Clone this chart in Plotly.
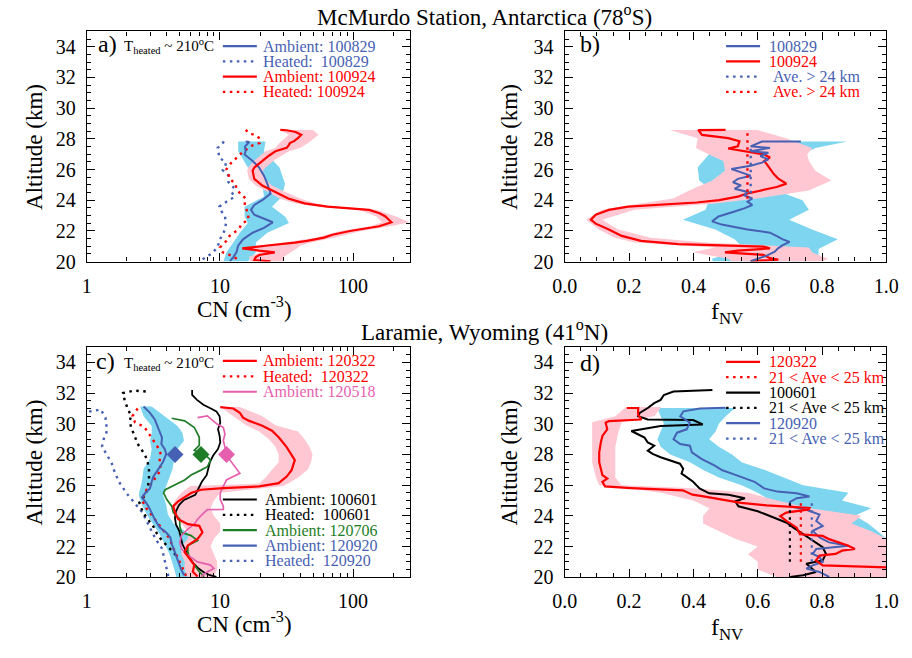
import plotly.graph_objects as go

W, H = 912, 658
SERIF = "Liberation Serif, Times New Roman, serif"

RED = "#ff0000"
PINK_FILL = "#ffc7d2"
BLUE = "#4661b3"
CYAN_FILL = "#7dd5f0"
GREEN = "#1e7d26"
MAGENTA = "#e65fae"
BLACK = "#000000"
DOT = "2.5px,4.5px"

# ---------------- a) McMurdo: CN profiles ----------------
a_amb0829_alt = [27.83, 27.79, 27.5, 27.19, 26.98, 26.56, 26.13, 25.6, 25.07, 24.43, 24.0, 23.69,
                 23.37, 23.05, 22.56, 22.2, 21.88, 21.45, 21.03, 20.6, 20.29, 20.02]
a_amb0829_cn = [15.6, 16.6, 15.4, 15.6, 15.3, 17.6, 19.7, 21.4, 22.7, 24.0, 20.8, 18.1,
                17.1, 18.1, 24.9, 21.4, 17.6, 14.9, 13.7, 13.3, 12.6, 11.9]
a_band0829_alt = [27.83, 27.19, 26.13, 25.07, 24.22, 23.58, 22.94, 22.52, 21.88, 21.24, 20.6, 20.0]
a_band0829_lo = [13.7, 13.7, 16.2, 20.8, 21.4, 15.3, 15.3, 16.2, 14.1, 12.6, 11.2, 10.6]
a_band0829_hi = [22.0, 21.4, 28.0, 30.8, 29.2, 24.6, 30.8, 33.0, 22.7, 18.6, 18.6, 16.2]

a_amb0924_alt = [28.58, 28.56, 28.45, 28.26, 28.05, 27.85, 27.73, 27.6, 27.41, 27.3, 27.19, 26.9,
                 26.66, 26.4, 26.13, 25.92, 25.6, 25.39, 24.96, 24.54, 24.11, 23.79, 23.58, 23.37,
                 23.15, 22.94, 22.75, 22.56, 22.3, 22.1, 21.99, 21.75, 21.56, 21.35, 21.24, 21.03,
                 20.86, 20.71, 20.6, 20.43, 20.29, 20.1, 20.01]
a_amb0924_cn = [28.4, 31.7, 37.0, 40.8, 38.5, 36.0, 33.5, 33.0, 31.7, 29.0, 26.1, 23.3,
                21.4, 19.5, 18.1, 17.6, 17.8, 18.1, 20.8, 26.1, 32.6, 43.2, 63.9, 132,
                158, 175, 186, 194, 157, 112, 94.6, 70, 60.4, 45, 36.5, 22.0,
                14.7, 19.7, 25.8, 19.7, 18.6, 18.1, 24.0]
a_band0924_alt = [28.58, 28.26, 27.73, 27.41, 27.19, 26.66, 26.13, 25.92, 25.39, 24.96, 24.54, 24.11,
                  23.79, 23.58, 23.37, 22.94, 22.56, 22.3, 21.99, 21.56, 21.24, 21.03, 20.86, 20.6,
                  20.29, 20.0]
a_band0924_lo = [28, 33, 28, 26, 22, 18.5, 16.3, 16.0, 16.5, 18.5, 23, 28,
                 37, 55, 110, 150, 165, 135, 80, 52, 30, 19, 16, 20, 16.5, 17]
a_band0924_hi = [50, 55, 46, 40, 33, 26, 22, 21, 22, 24.5, 31, 40,
                 52, 75, 150, 210, 265, 190, 115, 72, 48, 40, 38, 34, 30, 30]

a_heat0829_alt = [27.83, 27.62, 27.41, 27.09, 26.77, 26.45, 26.13, 25.96, 25.6, 25.17, 24.86, 24.54,
                  24.22, 23.9, 23.58, 23.26, 22.94, 22.52, 22.09, 21.77, 21.45, 21.18, 20.88, 20.5,
                  20.29, 20.01]
a_heat0829_cn = [10.7, 10.3, 9.6, 9.8, 9.9, 11.1, 10.9, 10.5, 11.6, 11.6, 12.6, 12.2,
                 12.9, 11.2, 9.9, 10.3, 10.9, 11.1, 10.9, 10.5, 10.0, 9.8, 9.5, 8.6,
                 7.8, 7.0]
a_heat0924_alt = [28.58, 28.36, 28.26, 28.04, 27.73, 27.58, 27.19, 26.77, 26.45, 26.03, 25.71, 25.39,
                  25.07, 24.75, 24.43, 24.11, 23.69, 23.16, 22.73, 22.52, 22.09, 21.67, 21.35, 20.92,
                  20.6, 20.39, 20.07]
a_heat0924_cn = [15.6, 16.6, 18.1, 19.9, 19.9, 17.6, 15.0, 13.3, 12.2, 11.2, 11.6, 11.8,
                 13.1, 13.3, 14.2, 15.6, 15.3, 16.2, 16.4, 14.9, 13.7, 11.8, 11.2, 10.0,
                 10.5, 12.2, 14.1]

# ---------------- b) McMurdo: non-volatile fraction ----------------
b_0829_alt = [27.83, 27.82, 27.51, 27.41, 27.19, 27.09, 26.88, 26.66, 26.45, 26.24, 26.03, 25.81,
              25.6, 25.39, 25.17, 24.96, 24.75, 24.54, 24.32, 24.11, 23.9, 23.69, 23.47, 23.26,
              22.94, 22.62, 22.41, 22.09, 21.88, 21.67, 21.45, 21.28, 21.07, 20.86, 20.65, 20.39,
              20.18, 20.03]
b_0829_f = [0.734, 0.613, 0.578, 0.638, 0.578, 0.633, 0.608, 0.633, 0.613, 0.578, 0.518, 0.548,
            0.578, 0.538, 0.523, 0.548, 0.528, 0.568, 0.558, 0.583, 0.568, 0.583, 0.558, 0.528,
            0.478, 0.458, 0.488, 0.568, 0.638, 0.658, 0.678, 0.699, 0.678, 0.663, 0.653, 0.628,
            0.598, 0.578]
b_0924_alt = [28.58, 28.57, 28.26, 28.05, 27.84, 27.52, 27.37, 27.24, 26.99, 26.78, 26.55, 26.35,
              25.93, 25.7, 25.4, 25.08, 24.86, 24.69, 24.44, 24.23, 24.0, 23.85, 23.72, 23.58,
              23.37, 23.05, 22.73, 22.47, 22.09, 21.67, 21.35, 21.14, 20.97, 20.86, 20.71, 20.6,
              20.43, 20.22, 20.12, 20.03]
b_0924_f = [0.50, 0.415, 0.427, 0.508, 0.543, 0.538, 0.508, 0.548, 0.618, 0.638, 0.62, 0.628,
            0.643, 0.65, 0.664, 0.689, 0.659, 0.618, 0.568, 0.538, 0.48, 0.41, 0.297, 0.197,
            0.137, 0.096, 0.081, 0.096, 0.137, 0.177, 0.237, 0.352, 0.618, 0.638, 0.538, 0.498,
            0.618, 0.638, 0.664, 0.578]
b_band0829_alt = [27.83, 27.41, 26.98, 26.13, 25.28, 24.64, 24.0, 23.37, 22.73, 22.09, 21.45, 20.82, 20.18, 20.0]
b_band0829_lo = [0.618, 0.598, 0.448, 0.413, 0.418, 0.458, 0.448, 0.438, 0.367, 0.468, 0.528, 0.558, 0.458, 0.46]
b_band0829_hi = [0.879, 0.779, 0.739, 0.698, 0.678, 0.658, 0.739, 0.759, 0.698, 0.769, 0.849, 0.789, 0.789, 0.75]
b_band0924_alt = [28.58, 28.04, 27.41, 26.98, 26.56, 25.92, 25.28, 24.64, 24.11, 23.79, 23.37, 22.73,
                  22.09, 21.56, 21.24, 20.92, 20.6, 20.18, 20.0]
b_band0924_lo = [0.327, 0.413, 0.408, 0.448, 0.493, 0.498, 0.458, 0.387, 0.337, 0.237, 0.116, 0.066,
                 0.106, 0.156, 0.217, 0.468, 0.398, 0.508, 0.52]
b_band0924_hi = [0.598, 0.688, 0.769, 0.754, 0.759, 0.779, 0.829, 0.759, 0.598, 0.468, 0.217, 0.116,
                 0.166, 0.267, 0.438, 0.759, 0.769, 0.819, 0.8]
b_avg_f = [0.578, 0.568]               # 100829, 100924 (mean above 24 km)
b_avg_alt = [[24.45, 27.6], [24.1, 28.58]]

# ---------------- c) Laramie: CN profiles ----------------
c_amb0920_alt = [31.13, 30.71, 30.28, 29.96, 29.42, 29.1, 28.68, 28.36, 28.04, 27.5, 27.18, 26.86,
                 26.54, 26.22, 25.79, 25.47, 25.19, 24.94, 24.62, 24.19, 23.76, 23.23, 22.91, 22.59,
                 22.16, 21.84, 21.41, 20.98, 20.56, 20.13]
c_amb0920_cn = [2.67, 2.98, 3.24, 3.34, 3.53, 3.67, 3.63, 3.84, 3.95, 3.73, 3.53, 3.34,
                3.15, 3.07, 2.98, 2.74, 2.59, 2.74, 2.90, 3.07, 3.24, 3.53, 3.95, 4.24,
                4.34, 4.49, 4.67, 4.86, 5.08, 5.37]
c_band0920_alt = [31.13, 30.49, 29.85, 29.42, 28.89, 28.36, 27.72, 27.07, 26.22, 25.37, 24.72, 24.08,
                  23.44, 22.8, 22.16, 21.52, 20.88, 20.13, 20.0]
c_band0920_lo = [2.52, 2.67, 3.07, 3.07, 2.98, 3.07, 2.98, 2.67, 2.59, 2.45, 2.59, 2.82,
                 3.15, 3.53, 3.84, 4.17, 4.41, 4.67, 4.7]
c_band0920_hi = [3.07, 3.84, 4.80, 5.22, 5.37, 4.80, 4.54, 4.41, 4.06, 3.73, 3.95, 4.06,
                 4.54, 6.0, 6.01, 6.01, 6.35, 6.72, 6.7]
c_heat0920_alt = [30.79, 30.94, 30.4, 29.55, 29.01, 28.52, 27.95, 27.41, 26.77, 26.13, 25.49, 24.95,
                  24.63, 24.21, 23.35, 22.5, 21.86, 21.0, 20.36, 20.04]
c_heat0920_cn = [1.04, 1.27, 1.38, 1.42, 1.34, 1.30, 1.42, 1.54, 1.63, 1.77, 1.98, 2.22,
                 2.41, 2.62, 2.93, 3.28, 3.67, 3.88, 4.0, 4.1]
c_heat0601_alt = [32.11, 32.16, 32.01, 31.47, 30.94, 30.51, 30.19, 29.76, 29.23, 28.69, 28.37, 28.05,
                  27.63, 26.98, 26.34, 25.7, 25.28, 24.85, 24.53, 24.1, 23.67, 23.25, 22.82, 22.39,
                  21.96, 21.64, 21.22]
c_heat0601_cn = [2.77, 2.28, 1.87, 1.93, 2.04, 2.15, 2.10, 2.15, 2.28, 2.41, 2.55, 2.70,
                 2.85, 2.93, 2.93, 2.85, 2.70, 2.48, 2.55, 2.70, 2.93, 3.19, 3.37, 3.67,
                 4.10, 4.46, 4.86]
c_heat0322_alt = [31.0, 30.5, 30.1, 29.8, 29.4, 29.0, 28.5, 28.0, 27.5, 27.0, 26.5, 26.0,
                  25.5, 25.0, 24.5, 24.0, 23.5, 23.0, 22.5, 22.0, 21.5, 21.0, 20.5, 20.0]
c_heat0322_cn = [2.41, 2.2, 2.3, 2.7, 2.9, 3.1, 3.4, 3.6, 3.5, 3.6, 3.3, 3.0,
                 2.7, 2.6, 2.8, 3.1, 3.4, 3.8, 4.2, 4.4, 4.7, 5.0, 5.3, 5.6]
c_amb0601_alt = [32.2, 31.88, 31.56, 31.24, 31.03, 30.81, 30.49, 30.07, 29.64, 29.21, 28.78, 28.36,
                 27.93, 27.5, 27.07, 26.65, 26.22, 25.79, 25.37, 25.04, 24.72, 24.3, 23.87, 23.44,
                 23.02, 22.59, 22.16, 21.73, 21.31, 20.88, 20.56, 20.34, 20.13, 20.02]
c_amb0601_cn = [6.18, 6.18, 6.72, 7.51, 8.4, 9.4, 9.94, 10.05, 9.67, 9.94, 10.05, 9.67,
                8.89, 8.4, 8.17, 7.94, 7.31, 6.91, 6.53, 5.37, 4.94, 4.67, 4.59, 4.67,
                4.94, 5.08, 5.22, 5.52, 5.84, 6.35, 6.91, 7.51, 8.4, 9.4]
c_amb0706_alt = [30.36, 30.19, 29.76, 29.12, 28.59, 28.27, 28.05, 27.84, 27.63, 27.2, 26.98, 26.66,
                 26.34, 25.92, 25.7, 25.49, 25.06, 24.63, 24.21, 23.78, 23.35, 22.92, 22.71, 22.39,
                 22.07, 21.64, 21.22, 20.79, 20.36, 20.04]
c_amb0706_cn = [4.34, 5.43, 6.42, 6.99, 6.99, 6.42, 7.2, 8.04, 8.5, 8.04, 7.2, 6.07,
                5.43, 4.34, 3.88, 3.77, 3.99, 4.34, 4.46, 4.99, 4.99, 5.13, 6.07, 6.79,
                5.74, 5.74, 5.91, 6.42, 6.99, 7.6]
c_amb0518_alt = [30.4, 30.51, 29.98, 29.76, 29.33, 28.91, 28.48, 28.05, 27.63, 27.09, 26.77, 26.56,
                 26.34, 25.92, 25.49, 25.06, 24.63, 24.42, 24.40, 24.21, 24.0, 23.78, 23.46, 23.14,
                 22.71, 22.28, 21.86, 21.43, 21.0, 20.79, 20.57, 20.36, 20.04]
c_amb0518_cn = [6.79, 8.04, 9.51, 10.6, 10.9, 10.6, 10.9, 11.2, 11.9, 13.3, 14.1, 12.6,
                11.2, 10.6, 10.05, 10.05, 10.6, 10.6, 8.04, 7.6, 7.2, 6.79, 6.42, 5.74,
                5.13, 5.0, 5.13, 5.74, 6.79, 8.5, 9.0, 8.04, 7.2]
c_amb0322_alt = [31.09, 31.0, 30.72, 30.4, 30.19, 29.87, 29.55, 29.12, 28.48, 27.84, 27.63, 26.98,
                 26.56, 26.13, 25.92, 25.81, 25.7, 25.49, 24.95, 24.63, 24.21, 23.78, 23.46, 23.35,
                 22.92, 22.5, 22.07, 21.64, 21.22, 20.79, 20.36, 20.04]
c_amb0322_cn = [10.05, 12.6, 14.1, 14.9, 16.6, 20.8, 24.6, 27.6, 31.7, 35.5, 36.5, 34.5,
                31.7, 27.6, 19.7, 10.6, 7.2, 6.07, 4.86, 4.46, 4.59, 4.86, 5.74, 6.99,
                7.39, 6.79, 5.74, 5.43, 5.91, 6.42, 6.25, 6.79]
c_band0322_alt = [31.1, 30.5, 29.9, 29.5, 29.0, 28.5, 28.0, 27.5, 27.0, 26.5, 26.1, 25.95,
                  25.5, 25.0, 24.5, 24.0, 23.5, 23.0, 22.5, 22.0, 21.5, 21.0, 20.5, 20.0]
c_band0322_lo = [10.05, 12.6, 15.7, 19.7, 23.3, 26.1, 27.6, 27.6, 24.6, 22.0, 19.7, 6.0,
                 5.13, 4.59, 4.34, 4.59, 5.13, 5.74, 5.74, 5.13, 5.13, 5.43, 5.43, 5.74]
c_band0322_hi = [14.1, 20.8, 26.1, 38.6, 43.2, 47.0, 49.6, 48.3, 45.6, 38.6, 32.6, 30.0,
                 10.05, 9.0, 8.5, 9.0, 10.05, 10.05, 9.0, 8.5, 9.0, 9.51, 9.51, 9.0]
c_mean_alt = [28.0, 28.0, 28.0]        # 120920, 120706, 120518
c_mean_cn = [4.6, 7.2, 11.2]

# ---------------- d) Laramie: non-volatile fraction ----------------
d_0322_alt = [31.03, 31.03, 30.6, 30.28, 30.17, 30.07, 29.64, 29.21, 28.78, 28.14, 27.5, 27.07,
              26.65, 26.43, 26.22, 25.92, 25.81, 25.66, 25.38, 25.28, 25.06, 24.85, 24.68, 24.51,
              24.42, 24.21, 23.98, 23.66, 23.23, 22.8, 22.69, 22.48, 22.05, 21.84, 21.73, 21.52,
              21.41, 21.09, 20.77, 20.66, 20.6]
d_0322_f = [0.193, 0.228, 0.228, 0.238, 0.137, 0.127, 0.132, 0.117, 0.112, 0.107, 0.107, 0.112,
            0.117, 0.132, 0.117, 0.125, 0.205, 0.367, 0.397, 0.427, 0.487, 0.548, 0.628, 0.761,
            0.759, 0.689, 0.67, 0.69, 0.721, 0.731, 0.802, 0.822, 0.882, 0.902, 0.862, 0.842,
            0.792, 0.781, 0.802, 0.95, 1.05]
d_0601_alt = [32.2, 32.1, 31.88, 31.56, 31.35, 31.03, 30.71, 30.49, 30.28, 30.24, 29.96, 29.9,
              29.85, 29.53, 29.1, 28.78, 28.57, 28.25, 28.04, 27.82, 27.61, 27.4, 27.07, 26.75,
              26.54, 26.22, 25.79, 25.47, 25.37, 25.15, 24.94, 24.62, 24.3, 23.87, 23.55, 23.23,
              22.8, 22.37, 21.95, 21.52, 21.09, 20.88, 20.56, 20.34, 20.13, 20.02]
d_0601_f = [0.459, 0.338, 0.308, 0.298, 0.278, 0.258, 0.233, 0.228, 0.258, 0.399, 0.429, 0.35,
            0.298, 0.207, 0.248, 0.258, 0.278, 0.258, 0.273, 0.298, 0.328, 0.358, 0.368, 0.363,
            0.378, 0.399, 0.419, 0.449, 0.509, 0.56, 0.53, 0.54, 0.6, 0.65, 0.69, 0.711,
            0.741, 0.771, 0.802, 0.812, 0.802, 0.751, 0.771, 0.781, 0.741, 0.701]
d_0920_alt = [31.05, 31.0, 30.81, 30.49, 30.07, 29.64, 29.42, 28.99, 28.68, 28.57, 28.14, 27.72,
              27.29, 26.97, 26.75, 26.54, 26.33, 26.22, 25.79, 25.58, 25.47, 25.26, 25.15, 24.9,
              24.62, 24.4, 24.08, 23.66, 23.34, 23.02, 22.59, 22.27, 22.05, 21.84, 21.52, 21.31,
              20.99, 20.77, 20.56, 20.34, 20.02]
d_0920_f = [0.50, 0.42, 0.369, 0.359, 0.389, 0.379, 0.349, 0.338, 0.359, 0.389, 0.395, 0.425,
            0.465, 0.49, 0.52, 0.55, 0.575, 0.59, 0.62, 0.661, 0.721, 0.761, 0.721, 0.70,
            0.701, 0.751, 0.792, 0.782, 0.802, 0.771, 0.792, 0.822, 0.882, 0.782, 0.771, 0.792,
            0.802, 0.771, 0.751, 0.792, 0.822]
d_band0920_alt = [31.03, 30.5, 30.0, 29.5, 29.0, 28.5, 28.0, 27.5, 27.0, 26.5, 26.0, 25.5,
                  25.0, 24.5, 24.0, 23.5, 23.0, 22.5, 22.0, 21.5, 21.0, 20.5, 20.0]
d_band0920_lo = [0.288, 0.298, 0.308, 0.298, 0.288, 0.298, 0.328, 0.389, 0.429, 0.479, 0.55, 0.6,
                 0.64, 0.661, 0.721, 0.721, 0.721, 0.741, 0.661, 0.65, 0.681, 0.661, 0.701]
d_band0920_hi = [0.53, 0.5, 0.479, 0.469, 0.449, 0.479, 0.52, 0.55, 0.62, 0.681, 0.741, 0.882,
                 0.862, 0.953, 0.902, 0.943, 0.973, 1.0, 1.0, 1.0, 0.953, 1.0, 1.0]
d_band0322_alt = [31.1, 30.5, 30.1, 29.5, 28.5, 27.5, 26.5, 26.0, 25.8, 25.5, 25.0, 24.5,
                  24.0, 23.5, 23.0, 22.5, 22.0, 21.5, 21.0, 20.5, 20.0]
d_band0322_lo = [0.19, 0.157, 0.085, 0.085, 0.085, 0.085, 0.097, 0.107, 0.197, 0.298, 0.399, 0.45,
                 0.43, 0.43, 0.48, 0.53, 0.6, 0.57, 0.6, 0.6, 0.661]
d_band0322_hi = [0.30, 0.278, 0.177, 0.167, 0.157, 0.157, 0.157, 0.177, 0.399, 0.57, 0.661, 0.762,
                 0.923, 0.892, 0.953, 1.0, 1.0, 1.0, 1.0, 1.0, 1.0]
d_avg_f = [0.734, 0.70, 0.768]        # 120322, 100601, 120920 (mean 21-25 km)
d_avg_alt = [21.0, 25.0]

# ---------------- axes ----------------
cn_ticks = [1, 10, 100]
cn_minor = [2, 3, 4, 5, 6, 7, 8, 9, 20, 30, 40, 50, 60, 70, 80, 90, 200]
f_ticks = [0.0, 0.2, 0.4, 0.6, 0.8, 1.0]
alt_ticks = [20, 22, 24, 26, 28, 30, 32, 34]


def px(x):
    return x / W


def py(y):
    return 1 - y / H


common = dict(showline=True, linecolor=BLACK, linewidth=1.4, mirror="ticks", ticks="inside",
              ticklen=8, tickwidth=1.2, tickcolor=BLACK, showgrid=False, zeroline=False,
              tickfont=dict(family=SERIF, size=20, color=BLACK))

x_left = [px(76), px(409)]
x_right = [px(568), px(899)]
y_top = [py(266), py(32)]
y_bot = [py(587), py(353)]


def cn_axis(domain, anchor):
    return dict(type="log", range=[0, 2.43], domain=domain, anchor=anchor,
                tickvals=cn_ticks, ticktext=[str(v) for v in cn_ticks], ticklabelstandoff=6,
                minor=dict(tickvals=cn_minor, ticks="inside", ticklen=4, tickcolor=BLACK, tickwidth=1),
                **common)


def f_axis(domain, anchor):
    return dict(range=[0, 1], domain=domain, anchor=anchor, tickvals=f_ticks,
                ticktext=["%.1f" % v for v in f_ticks], ticklabelstandoff=6,
                minor=dict(dtick=0.05, ticks="inside", ticklen=4, tickcolor=BLACK, tickwidth=1),
                **common)


def alt_axis(domain, anchor):
    return dict(range=[20, 35], domain=domain, anchor=anchor, tickvals=alt_ticks,
                ticklabelstandoff=6,
                minor=dict(dtick=0.5, ticks="inside", ticklen=4, tickcolor=BLACK, tickwidth=1),
                **common)


fig = go.Figure()


def band(alt, lo, hi, color, xa, ya):
    fig.add_trace(go.Scatter(x=list(lo) + list(hi)[::-1], y=list(alt) + list(alt)[::-1],
                             fill="toself", fillcolor=color, mode="none",
                             xaxis=xa, yaxis=ya, showlegend=False, hoverinfo="skip"))


def line(x, y, color, xa, ya, width=2.0, dash="solid"):
    fig.add_trace(go.Scatter(x=x, y=y, mode="lines", line=dict(color=color, width=width, dash=dash),
                             xaxis=xa, yaxis=ya, showlegend=False, hoverinfo="skip"))


# panel a
band(a_band0829_alt, a_band0829_lo, a_band0829_hi, CYAN_FILL, "x", "y")
band(a_band0924_alt, a_band0924_lo, a_band0924_hi, PINK_FILL, "x", "y")
line(a_heat0829_cn, a_heat0829_alt, BLUE, "x", "y", 2.4, DOT)
line(a_heat0924_cn, a_heat0924_alt, RED, "x", "y", 2.4, DOT)
line(a_amb0829_cn, a_amb0829_alt, BLUE, "x", "y", 2.0)
line(a_amb0924_cn, a_amb0924_alt, RED, "x", "y", 2.2)

# panel b
band(b_band0829_alt, b_band0829_lo, b_band0829_hi, CYAN_FILL, "x2", "y2")
band(b_band0924_alt, b_band0924_lo, b_band0924_hi, PINK_FILL, "x2", "y2")
line(b_0924_f, b_0924_alt, RED, "x2", "y2", 2.2)
line(b_0829_f, b_0829_alt, BLUE, "x2", "y2", 2.0)
for f, rng, col in zip(b_avg_f, b_avg_alt, [BLUE, RED]):
    line([f, f], rng, col, "x2", "y2", 2.4, DOT)

# panel c
band(c_band0920_alt, c_band0920_lo, c_band0920_hi, CYAN_FILL, "x3", "y3")
band(c_band0322_alt, c_band0322_lo, c_band0322_hi, PINK_FILL, "x3", "y3")
line(c_heat0920_cn, c_heat0920_alt, BLUE, "x3", "y3", 2.4, DOT)
line(c_heat0601_cn, c_heat0601_alt, BLACK, "x3", "y3", 2.4, DOT)
line(c_heat0322_cn, c_heat0322_alt, RED, "x3", "y3", 2.4, DOT)
line(c_amb0601_cn, c_amb0601_alt, BLACK, "x3", "y3", 1.8)
line(c_amb0706_cn, c_amb0706_alt, GREEN, "x3", "y3", 1.7)
line(c_amb0518_cn, c_amb0518_alt, MAGENTA, "x3", "y3", 1.7)
line(c_amb0920_cn, c_amb0920_alt, BLUE, "x3", "y3", 2.0)
line(c_amb0322_cn, c_amb0322_alt, RED, "x3", "y3", 2.2)
fig.add_trace(go.Scatter(x=c_mean_cn, y=c_mean_alt, mode="markers",
                         marker=dict(symbol="diamond", size=13, color=[BLUE, GREEN, MAGENTA]),
                         xaxis="x3", yaxis="y3", showlegend=False, hoverinfo="skip"))

# panel d
band(d_band0920_alt, d_band0920_lo, d_band0920_hi, CYAN_FILL, "x4", "y4")
band(d_band0322_alt, d_band0322_lo, d_band0322_hi, PINK_FILL, "x4", "y4")
line(d_0601_f, d_0601_alt, BLACK, "x4", "y4", 2.0)
line(d_0920_f, d_0920_alt, BLUE, "x4", "y4", 2.0)
line(d_0322_f, d_0322_alt, RED, "x4", "y4", 2.2)
for f, col in zip(d_avg_f, [RED, BLACK, BLUE]):
    line([f, f], d_avg_alt, col, "x4", "y4", 2.2, DOT)

fig.update_layout(
    width=W, height=H, margin=dict(l=0, r=0, t=0, b=0),
    paper_bgcolor="white", plot_bgcolor="white", showlegend=False,
    xaxis=cn_axis(x_left, "y"), yaxis=alt_axis(y_top, "x"),
    xaxis2=f_axis(x_right, "y2"), yaxis2=alt_axis(y_top, "x2"),
    xaxis3=cn_axis(x_left, "y3"), yaxis3=alt_axis(y_bot, "x3"),
    xaxis4=f_axis(x_right, "y4"), yaxis4=alt_axis(y_bot, "x4"),
)


def text(x, y, s, size, color=BLACK, anchor="center", angle=0):
    fig.add_annotation(xref="paper", yref="paper", x=px(x), y=py(y), text=s, showarrow=False,
                       xanchor=anchor, yanchor="middle", textangle=angle,
                       font=dict(family=SERIF, size=size, color=color))


# titles and axis labels
text(485, 16, "McMurdo Station, Antarctica (78<sup>o</sup>S)", 23)
text(485, 336, "Laramie, Wyoming (41<sup>o</sup>N)", 23)
for ycen in (149, 470):
    text(22, ycen, "Altitude (km)", 23, angle=-90)
    text(511, ycen, "Altitude (km)", 23, angle=-90)
text(238, 313, "CN (cm<sup>-3</sup>)", 23)
text(238, 633, "CN (cm<sup>-3</sup>)", 23)
text(735, 318, "f<sub>NV</sub>", 24)
text(735, 640, "f<sub>NV</sub>", 24)

# panel labels
text(85, 45, "a)", 24, anchor="left")
text(112, 47, "T<sub>heated</sub> ~ 210<sup>o</sup>C", 15, anchor="left")
text(582, 45, "b)", 24, anchor="left")
text(83, 367, "c)", 24, anchor="left")
text(112, 369, "T<sub>heated</sub> ~ 210<sup>o</sup>C", 15, anchor="left")
text(582, 369, "d)", 24, anchor="left")


def legend(entries, x0, y0, dy, tx):
    for i, (label, color, dash) in enumerate(entries):
        y = y0 + i * dy
        fig.add_shape(type="line", xref="paper", yref="paper", x0=px(x0), x1=px(x0 + 35),
                      y0=py(y), y1=py(y), line=dict(color=color, width=2.2, dash=dash))
        text(tx, y, label, 16, color=color, anchor="left")


legend([("Ambient: 100829", BLUE, "solid"), ("Heated:&nbsp; 100829", BLUE, DOT),
        ("Ambient: 100924", RED, "solid"), ("Heated: 100924", RED, DOT)],
       216, 47, 15.5, 255)
legend([("100829", BLUE, "solid"), ("100924", RED, "solid"),
        ("&nbsp;Ave. &gt; 24 km", BLUE, DOT), ("&nbsp;Ave. &gt; 24 km", RED, DOT)],
       734, 47, 15.5, 776)
legend([("Ambient: 120322", RED, "solid"), ("Heated:&nbsp; 120322", RED, DOT),
        ("Ambient: 120518", MAGENTA, "solid")],
       216, 367, 15.7, 255)
legend([("Ambient: 100601", BLACK, "solid"), ("Heated:&nbsp; 100601", BLACK, DOT),
        ("Ambient: 120706", GREEN, "solid"), ("Ambient: 120920", BLUE, "solid"),
        ("Heated:&nbsp; 120920", BLUE, DOT)],
       216, 508, 15.6, 257)
legend([("120322", RED, "solid"), ("21 &lt; Ave &lt; 25 km", RED, DOT),
        ("100601", BLACK, "solid"), ("21 &lt; Ave &lt; 25 km", BLACK, DOT),
        ("120920", BLUE, "solid"), ("21 &lt; Ave &lt; 25 km", BLUE, DOT)],
       734, 368, 15.6, 776)

fig.write_html("out.html")
